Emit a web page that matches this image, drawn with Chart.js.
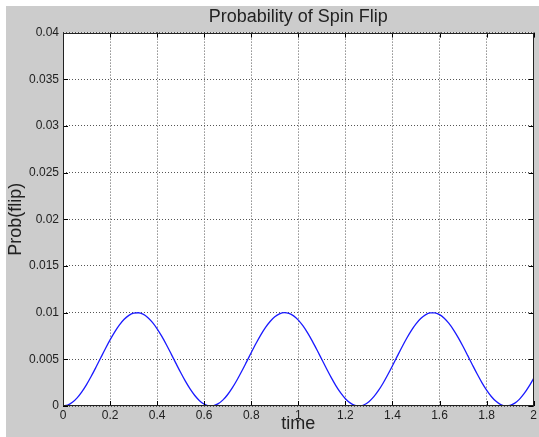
<!DOCTYPE html>
<html>
<head>
<meta charset="utf-8">
<script src="https://cdn.jsdelivr.net/npm/chart.js@4/dist/chart.umd.min.js"></script>
<style>
  html, body { margin: 0; padding: 0; background: #ffffff; }
  #wrap { position: absolute; left: 6px; top: 6px; width: 533px; height: 431px; background: #cccccc; }
  canvas { display: block; }
</style>
</head>
<body>
<div id="wrap"><canvas id="c" width="533" height="431"></canvas></div>
<script>
const chartTitle = 'Probability of Spin Flip';
const xTitle = 'time';
const yTitle = 'Prob(flip)';

const times = [
  0.00,0.02,0.04,0.06,0.08,0.10,0.12,0.14,0.16,0.18,
  0.20,0.22,0.24,0.26,0.28,0.30,0.32,0.34,0.36,0.38,
  0.40,0.42,0.44,0.46,0.48,0.50,0.52,0.54,0.56,0.58,
  0.60,0.62,0.64,0.66,0.68,0.70,0.72,0.74,0.76,0.78,
  0.80,0.82,0.84,0.86,0.88,0.90,0.92,0.94,0.96,0.98,
  1.00,1.02,1.04,1.06,1.08,1.10,1.12,1.14,1.16,1.18,
  1.20,1.22,1.24,1.26,1.28,1.30,1.32,1.34,1.36,1.38,
  1.40,1.42,1.44,1.46,1.48,1.50,1.52,1.54,1.56,1.58,
  1.60,1.62,1.64,1.66,1.68,1.70,1.72,1.74,1.76,1.78,
  1.80,1.82,1.84,1.86,1.88,1.90,1.92,1.94,1.96,1.98,
  2.00
];

const probFlip = [
  0.000000,0.000100,0.000395,0.000873,0.001516,0.002298,0.003188,0.004150,0.005146,0.006136,
  0.007081,0.007943,0.008687,0.009285,0.009711,0.009950,0.009991,0.009834,0.009484,0.008955,
  0.008268,0.007451,0.006537,0.005561,0.004562,0.003582,0.002657,0.001827,0.001122,0.000572,
  0.000199,0.000017,0.000034,0.000249,0.000653,0.001230,0.001958,0.002807,0.003744,0.004730,
  0.005728,0.006696,0.007597,0.008394,0.009055,0.009556,0.009874,0.009998,0.009923,0.009652,
  0.009195,0.008571,0.007805,0.006927,0.005972,0.004978,0.003985,0.003033,0.002159,0.001398,
  0.000781,0.000332,0.000069,0.000003,0.000136,0.000463,0.000971,0.001639,0.002441,0.003346,
  0.004316,0.005314,0.006299,0.007232,0.008077,0.008798,0.009369,0.009765,0.009971,0.009979,
  0.009788,0.009407,0.008850,0.008139,0.007303,0.006376,0.005393,0.004395,0.003421,0.002510,
  0.001698,0.001018,0.000497,0.000155,0.000006,0.000056,0.000304,0.000739,0.001343,0.002093,
  0.002960
];

const xTickValues = [0,0.2,0.4,0.6,0.8,1,1.2,1.4,1.6,1.8,2];
const xTickLabels = ['0','0.2','0.4','0.6','0.8','1','1.2','1.4','1.6','1.8','2'];
const yTickValues = [0,0.005,0.01,0.015,0.02,0.025,0.03,0.035,0.04];
const yTickLabels = ['0','0.005','0.01','0.015','0.02','0.025','0.03','0.035','0.04'];

function labelFor(values, labels, v) {
  for (let i = 0; i < values.length; i++) {
    if (Math.abs(values[i] - v) < 1e-9) return labels[i];
  }
  return '';
}

const matlabFrame = {
  id: 'matlabFrame',
  beforeDraw(chart) {
    const {ctx, chartArea: a} = chart;
    ctx.save();
    ctx.fillStyle = '#ffffff';
    ctx.fillRect(a.left, a.top, a.right - a.left, a.bottom - a.top);
    ctx.restore();
  },
  afterDraw(chart) {
    const {ctx, chartArea: a, scales} = chart;
    ctx.save();
    ctx.setLineDash([]);
    ctx.strokeStyle = '#000000';
    ctx.lineWidth = 1;
    const tl = 5;
    ctx.beginPath();
    scales.x.ticks.forEach(t => {
      const px = Math.round(scales.x.getPixelForValue(t.value)) + 0.5;
      ctx.moveTo(px, a.bottom); ctx.lineTo(px, a.bottom - tl);
      ctx.moveTo(px, a.top); ctx.lineTo(px, a.top + tl);
    });
    scales.y.ticks.forEach(t => {
      const py = Math.round(scales.y.getPixelForValue(t.value)) + 0.5;
      ctx.moveTo(a.left, py); ctx.lineTo(a.left + tl, py);
      ctx.moveTo(a.right, py); ctx.lineTo(a.right - tl, py);
    });
    ctx.stroke();
    ctx.strokeStyle = '#222222';
    ctx.strokeRect(Math.round(a.left) + 0.5, Math.round(a.top) + 0.5,
                   Math.round(a.right - a.left) - 1, Math.round(a.bottom - a.top) - 1);
    ctx.restore();
  }
};

const fontFamily = '"Liberation Sans", Arial, Helvetica, sans-serif';

new Chart(document.getElementById('c'), {
  type: 'line',
  data: {
    datasets: [{
      data: times.map((t, i) => ({x: t, y: probFlip[i]})),
      borderColor: '#1a1aff',
      borderWidth: 1.3,
      pointRadius: 0,
      fill: false,
      tension: 0,
      cubicInterpolationMode: 'monotone'
    }]
  },
  options: {
    responsive: false,
    animation: false,
    layout: { padding: { left: 0, right: 4, top: 0, bottom: 0 } },
    plugins: {
      legend: { display: false },
      tooltip: { enabled: false },
      title: {
        display: true,
        text: chartTitle,
        fullSize: false,
        color: '#222222',
        font: { family: fontFamily, size: 18, weight: 'normal', lineHeight: 1.2 },
        padding: { top: 0, bottom: 5 }
      }
    },
    scales: {
      x: {
        type: 'linear',
        min: 0, max: 2,
        afterBuildTicks(scale) { scale.ticks = xTickValues.map(v => ({value: v})); },
        afterFit(scale) { scale.height = 31; },
        ticks: {
          autoSkip: false,
          maxRotation: 0,
          padding: 2,
          color: '#222222',
          font: { family: fontFamily, size: 12 },
          callback: v => labelFor(xTickValues, xTickLabels, v)
        },
        grid: {
          drawTicks: false,
          color: '#555555',
          lineWidth: 1
        },
        border: { display: false, dash: [1, 2] },
        title: {
          display: true,
          text: xTitle,
          color: '#222222',
          font: { family: fontFamily, size: 18, lineHeight: 1.1 },
          padding: { top: 0, bottom: 3 }
        }
      },
      y: {
        type: 'linear',
        min: 0, max: 0.04,
        afterBuildTicks(scale) { scale.ticks = yTickValues.map(v => ({value: v})); },
        afterFit(scale) { scale.width = 57; },
        ticks: {
          autoSkip: false,
          padding: 4,
          color: '#222222',
          font: { family: fontFamily, size: 12 },
          callback: v => labelFor(yTickValues, yTickLabels, v)
        },
        grid: {
          drawTicks: false,
          color: '#555555',
          lineWidth: 1
        },
        border: { display: false, dash: [1, 2] },
        title: {
          display: true,
          text: yTitle,
          color: '#222222',
          font: { family: fontFamily, size: 18, lineHeight: 1.1 },
          padding: { top: 0, bottom: 0 }
        }
      }
    }
  },
  plugins: [matlabFrame]
});
</script>
</body>
</html>
